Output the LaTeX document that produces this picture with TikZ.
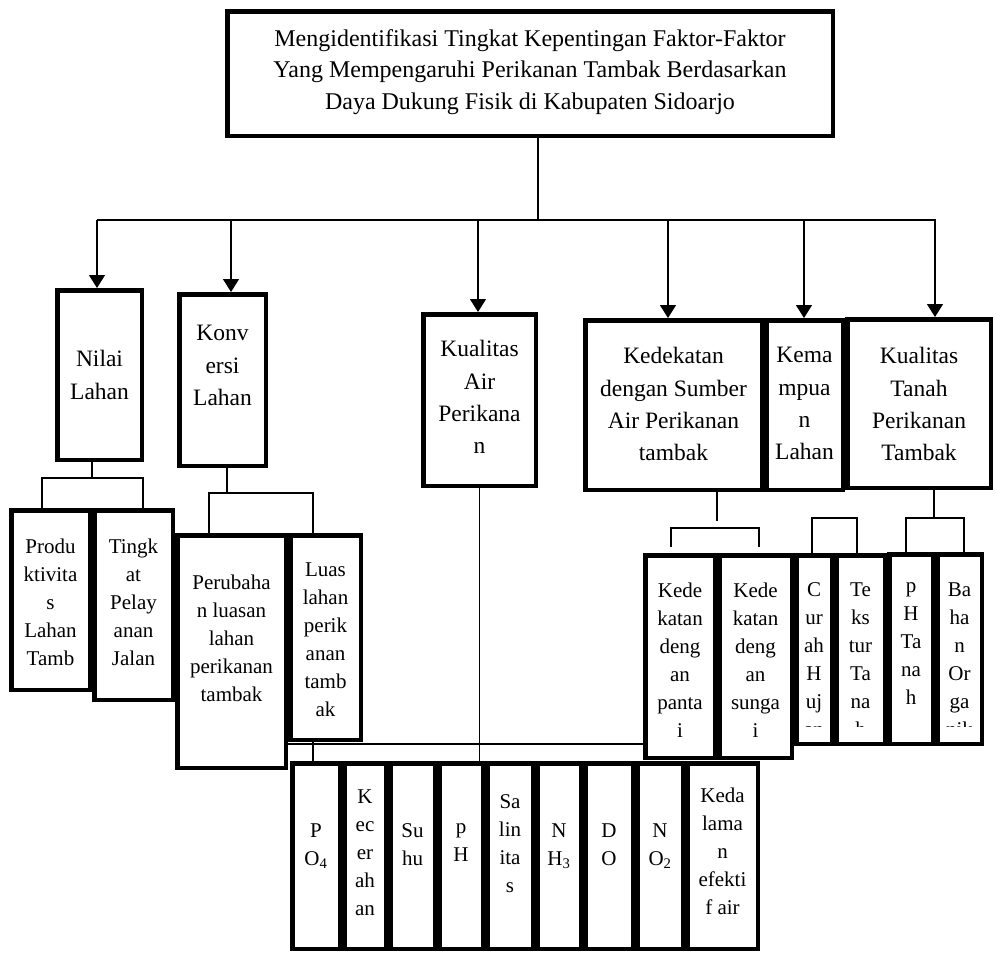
\documentclass[tikz,border=0pt]{standalone}
\usepackage{fontspec}
\setmainfont{Liberation Serif}
\usetikzlibrary{arrows.meta}
\pgfdeclarelayer{bg}
\pgfsetlayers{bg,main}
\tikzset{
  box/.style={draw, line width=4.5pt, fill=white, inner sep=0pt, rectangle},
  con/.style={draw, line width=1.4pt},
  arr/.style={con, -{Triangle[length=13pt,width=16pt]}},
  brk/.style={draw, line width=1.2pt},
  txtbase/.style={align=center, inner sep=0pt, anchor=north, yshift=-6pt, execute at begin node=\strut},
  ttop/.style={txtbase, font=\fontsize{24}{31.5}\selectfont},
  tmid/.style={txtbase, font=\fontsize{23.5}{32.3}\selectfont},
  tlow/.style={txtbase, font=\fontsize{21}{28}\selectfont},
}
\newcommand\mybox[5]{\node[box, minimum width={#4pt-#2pt-4.5pt}, minimum height={#5pt-#3pt-4.5pt}] (#1) at ({(#2+#4)/2},{(#3+#5)/2}) {};}
\begin{document}
\begin{tikzpicture}[x=1pt,y=-1pt]
\useasboundingbox (0,0) rectangle (996,954);
% level 1
\mybox{top}{225}{9}{835}{138}
% level 2
\mybox{nilai}{55}{288}{144}{462}
\mybox{konv}{177}{292}{268}{468}
\mybox{kair}{421}{312}{538}{488}
\mybox{kedek}{583}{318}{764}{492}
\mybox{kemam}{764}{318}{845}{492}
\mybox{ktanah}{845}{317}{993}{490}
% level 3 left
\mybox{prod}{9}{508}{92}{692}
\mybox{tingk}{92}{508}{175}{702}
\mybox{perub}{175}{533}{288}{770}
\mybox{luas}{288}{533}{363}{742}
% level 3 right
\mybox{kedep}{643}{553}{717}{760}
\mybox{kedes}{717}{553}{794}{760}
\mybox{curah}{794}{553}{834}{746}
\mybox{tekst}{834}{553}{887}{746}
\mybox{phtan}{887}{552}{935}{746}
\mybox{bahan}{935}{552}{984}{746}
% bottom row
\mybox{po4}{290}{761}{342}{951}
\mybox{kecer}{342}{761}{388}{951}
\mybox{suhu}{388}{761}{437}{951}
\mybox{ph}{437}{761}{485}{951}
\mybox{salin}{485}{761}{535}{951}
\mybox{nh3}{535}{761}{583}{951}
\mybox{do}{583}{761}{635}{951}
\mybox{no2}{635}{761}{685}{951}
\mybox{kedal}{685}{761}{760}{951}

% texts
\node[ttop] (topT) at (top.center |- 0,22.95) {Mengidentifikasi Tingkat Kepentingan Faktor-Faktor\\Yang Mempengaruhi Perikanan Tambak Berdasarkan\\Daya Dukung Fisik di Kabupaten Sidoarjo};
\node[tmid] (nilaiT) at (nilai.center |- 0,344.4) {Nilai\\Lahan};
\node[tmid] (konvT) at (konv.center |- 0,319.4) {Konv\\ersi\\Lahan};
\node[tmid] (kairT) at (kair.center |- 0,334.4) {Kualitas\\Air\\Perikana\\n};
\node[tmid] (kedekT) at (kedek.center |- 0,341.4) {Kedekatan\\dengan Sumber\\Air Perikanan\\tambak};
\node[tmid] (kemamT) at (kemam.center |- 0,341.4) {Kema\\mpua\\n\\Lahan};
\node[tmid] (ktanahT) at (ktanah.center |- 0,341.4) {Kualitas\\Tanah\\Perikanan\\Tambak};
\node[tlow] (prodT) at (prod.center |- 0,532.4) {Produ\\ktivita\\s\\Lahan\\Tamb};
\node[tlow] (tingkT) at (tingk.center |- 0,532.4) {Tingk\\at\\Pelay\\anan\\Jalan};
\node[tlow] (perubT) at (perub.center |- 0,568.4) {Perubaha\\n luasan\\lahan\\perikanan\\tambak};
\node[tlow] (luasT) at (luas.center |- 0,556.4) {Luas\\lahan\\perik\\anan\\tamb\\ak};
\node[tlow] (kedepT) at (kedep.center |- 0,576.4) {Kede\\katan\\deng\\an\\panta\\i};
\node[tlow] (kedesT) at (kedes.center |- 0,576.4) {Kede\\katan\\deng\\an\\sunga\\i};
\begin{scope}
\clip (curah.north west) rectangle (curah.east |- 0,726);
\node[tlow] (curahT) at (curah.center |- 0,576.4) {C\\ur\\ah\\H\\uj\\an};
\end{scope}
\begin{scope}
\clip (tekst.north west) rectangle (tekst.east |- 0,726);
\node[tlow] (tekstT) at (tekst.center |- 0,576.4) {Te\\ks\\tur\\Ta\\na\\h};
\end{scope}
\node[tlow] (phtanT) at (phtan.center |- 0,576.4) {p\\H\\Ta\\na\\h};
\begin{scope}
\clip (bahan.north west) rectangle (bahan.east |- 0,726);
\node[tlow] (bahanT) at (bahan.center |- 0,576.4) {Ba\\ha\\n\\Or\\ga\\nik};
\end{scope}
\node[tlow] (po4T) at (po4.center |- 0,817.4) {P\\O\textsubscript{4}};
\node[tlow] (kecerT) at (kecer.center |- 0,783.4) {K\\ec\\er\\ah\\an};
\node[tlow] (suhuT) at (suhu.center |- 0,817.4) {Su\\hu};
\node[tlow] (phT) at (ph.center |- 0,817.4) {p\\H};
\node[tlow] (salinT) at (salin.center |- 0,788.4) {Sa\\lin\\ita\\s};
\node[tlow] (nh3T) at (nh3.center |- 0,817.4) {N\\H\textsubscript{3}};
\node[tlow] (doT) at (do.center |- 0,817.4) {D\\O};
\node[tlow] (no2T) at (no2.center |- 0,817.4) {N\\O\textsubscript{2}};
\node[tlow] (kedalT) at (kedal.center |- 0,781.4) {Keda\\lama\\n\\efekti\\f air};

% connectors
\begin{pgfonlayer}{bg}
\coordinate (bus) at (538,220);
\coordinate (busL) at (97,220);
\coordinate (busR) at (936,220);
\draw[con] (bus |- top.south) -- (bus);
\draw[con] (busL) -- (busR);
\coordinate (a1) at (97,220);
\coordinate (a2) at (231,220);
\coordinate (a3) at (478,220);
\coordinate (a4) at (668,220);
\coordinate (a5) at (804,220);
\coordinate (a6) at (935,220);
\draw[arr] (a1) -- (a1 |- nilai.north);
\draw[arr] (a2) -- (a2 |- konv.north);
\draw[arr] (a3) -- (a3 |- kair.north);
\draw[arr] (a4) -- (a4 |- kedek.north);
\draw[arr] (a5) -- (a5 |- kemam.north);
\draw[arr] (a6) -- (a6 |- ktanah.north);
% nilai bracket
\draw[brk] (nilai.south -| 92,0) -- (92,478);
\draw[brk] (prod.north -| 42,0) -- (42,478) -- (143,478) -- (tingk.north -| 143,0);
% konversi bracket
\draw[brk] (konv.south -| 227,0) -- (227,493);
\draw[brk] (perub.north -| 209,0) -- (209,493) -- (313,493) -- (po4.north -| 313,0);
\draw[brk] (perub.east |- 0,744) -- (kedep.west |- 0,744);
% kualitas air
\draw[brk] (kair.south) -- (kair.south |- po4.north);
% kedekatan bracket
\draw[brk] (kedek.south -| 717,0) -- (717,521);
\draw[brk] (671,547) -- (671,528) -- (759,528) -- (759,547);
% kemampuan bracket
\draw[brk] (curah.north -| 812,0) -- (812,518) -- (857,518) -- (tekst.north -| 857,0);
% kualitas tanah bracket
\draw[brk] (ktanah.south -| 934,0) -- (934,518);
\draw[brk] (phtan.north -| 906,0) -- (906,518) -- (964,518) -- (bahan.north -| 964,0);
\end{pgfonlayer}
\end{tikzpicture}
\end{document}
